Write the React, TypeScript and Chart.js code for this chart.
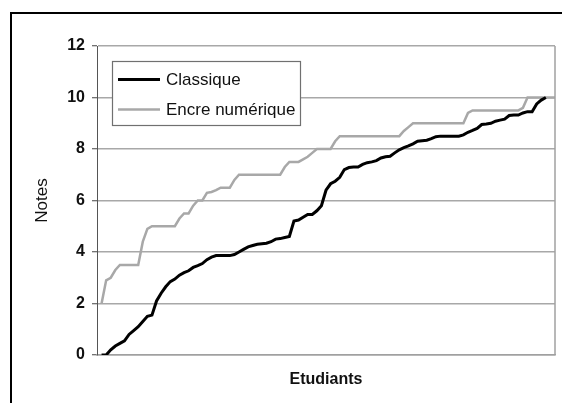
import React, { useEffect, useRef } from "react";
import { Chart, registerables } from "chart.js";

Chart.register(...registerables);

const seriesLabels = ["Classique", "Encre numérique"];
const yTicks = [0, 2, 4, 6, 8, 10, 12];
const students = Array.from({ length: 100 }, (_, i) => i + 1);

const classique = [
  0, 0, 0.2, 0.35, 0.45, 0.55, 0.8, 0.95, 1.1, 1.3,
  1.5, 1.55, 2.1, 2.4, 2.65, 2.85, 2.95, 3.1, 3.2, 3.27,
  3.4, 3.47, 3.55, 3.7, 3.8, 3.86, 3.86, 3.86, 3.86, 3.9,
  4.0, 4.1, 4.2, 4.25, 4.3, 4.32, 4.34, 4.4, 4.5, 4.52,
  4.56, 4.6, 5.2, 5.24, 5.35, 5.46, 5.46, 5.6, 5.8, 6.4,
  6.65, 6.75, 6.9, 7.2, 7.28, 7.3, 7.3, 7.4, 7.47, 7.5,
  7.55, 7.65, 7.7, 7.72, 7.85, 7.97, 8.05, 8.12, 8.2, 8.3,
  8.32, 8.34, 8.4, 8.48, 8.5, 8.5, 8.5, 8.5, 8.5, 8.55,
  8.65, 8.72, 8.8, 8.95, 8.97, 9.0, 9.08, 9.12, 9.16, 9.3,
  9.32, 9.32, 9.4, 9.45, 9.45, 9.75, 9.9, 10,
];

const encre = [
  2, 2.9, 3, 3.3, 3.5, 3.5, 3.5, 3.5, 3.5, 4.4,
  4.9, 5, 5, 5, 5, 5, 5, 5.3, 5.5, 5.5,
  5.8, 6, 6, 6.3, 6.33, 6.4, 6.5, 6.5, 6.5, 6.8,
  7, 7, 7, 7, 7, 7, 7, 7, 7, 7,
  7.3, 7.5, 7.5, 7.5, 7.6, 7.7, 7.85, 8, 8, 8,
  8, 8.3, 8.5, 8.5, 8.5, 8.5, 8.5, 8.5, 8.5, 8.5,
  8.5, 8.5, 8.5, 8.5, 8.5, 8.5, 8.7, 8.85, 9, 9,
  9, 9, 9, 9, 9, 9, 9, 9, 9, 9,
  9.4, 9.5, 9.5, 9.5, 9.5, 9.5, 9.5, 9.5, 9.5, 9.5,
  9.5, 9.5, 9.6, 10, 10, 10, 10, 10, 10, 10,
];

const FONT = "'Liberation Sans', Arial, Helvetica, sans-serif";

const decorPlugin = {
  id: "decor",
  afterDatasetsDraw(chart: any) {
    const { ctx, chartArea } = chart;
    ctx.save();
    // right border of plot
    ctx.strokeStyle = "#a0a0a0";
    ctx.lineWidth = 1.5;
    ctx.beginPath();
    ctx.moveTo(chartArea.right, chartArea.top);
    ctx.lineTo(chartArea.right, chartArea.bottom);
    ctx.stroke();

    // legend box
    const lx = 112.5, ly = 61.5, lw = 188, lh = 64;
    ctx.fillStyle = "#ffffff";
    ctx.fillRect(lx, ly, lw, lh);
    ctx.strokeStyle = "#707070";
    ctx.lineWidth = 1.2;
    ctx.strokeRect(lx, ly, lw, lh);
    const ds = chart.data.datasets;
    const rows = [79.5, 109.5];
    ds.forEach((d: any, i: number) => {
      ctx.strokeStyle = d.borderColor;
      ctx.lineWidth = d.borderWidth;
      ctx.beginPath();
      ctx.moveTo(118, rows[i]);
      ctx.lineTo(160, rows[i]);
      ctx.stroke();
      ctx.fillStyle = "#111";
      ctx.font = `17px ${FONT}`;
      ctx.textBaseline = "middle";
      ctx.textAlign = "left";
      ctx.fillText(d.label, 166, rows[i] + 0.5);
    });

    // outer frame
    ctx.fillStyle = "#000";
    ctx.fillRect(10, 12, 552, 2);
    ctx.fillRect(10, 12, 2, 391);
    ctx.restore();
  },
};

export default function App() {
  const ref = useRef<HTMLCanvasElement | null>(null);

  useEffect(() => {
    if (!ref.current) return;
    const chart = new Chart(ref.current, {
      type: "line",
      data: {
        datasets: [
          {
            label: seriesLabels[0],
            data: classique.map((v, i) => ({ x: students[i], y: v })),
            borderColor: "#000000",
            borderWidth: 3,
            pointRadius: 0,
            tension: 0,
            fill: false,
          },
          {
            label: seriesLabels[1],
            data: encre.map((v, i) => ({ x: students[i], y: v })),
            borderColor: "#a8a8a8",
            borderWidth: 2.5,
            pointRadius: 0,
            tension: 0,
            fill: false,
          },
        ],
      },
      options: {
        animation: false,
        responsive: false,
        devicePixelRatio: 1,
        layout: { padding: { left: 0, top: 46, right: 7, bottom: 0 } },
        plugins: {
          legend: { display: false },
          tooltip: { enabled: false },
          title: { display: false },
        },
        scales: {
          x: {
            type: "linear",
            min: 0,
            max: 100,
            ticks: { display: false },
            grid: { display: false },
            border: { display: true, color: "#a0a0a0", width: 1.5 },
            title: {
              display: true,
              text: "Etudiants",
              color: "#111",
              font: { family: FONT, size: 16, weight: "bold" },
              padding: { top: 0, bottom: 14 },
            },
            afterFit(scale: any) {
              scale.height = 48;
            },
          },
          y: {
            min: 0,
            max: 12,
            afterBuildTicks(scale: any) {
              scale.ticks = yTicks.map((v) => ({ value: v }));
            },
            ticks: {
              color: "#111",
              font: { family: FONT, size: 16, weight: "bold" },
              padding: 7,
            },
            grid: {
              color: "#a8a8a8",
              lineWidth: 1.5,
              tickLength: 5,
              tickColor: "#444",
              tickWidth: 1,
            },
            border: { display: true, color: "#555", width: 1 },
            title: {
              display: true,
              text: "Notes",
              color: "#111",
              font: { family: FONT, size: 17, weight: "normal" },
              padding: { top: 32, bottom: 0 },
            },
            afterFit(scale: any) {
              scale.width = 97;
            },
          },
        },
      },
      plugins: [decorPlugin],
    });
    return () => chart.destroy();
  }, []);

  return (
    <div
      style={{
        position: "absolute",
        left: 0,
        top: 0,
        width: 562,
        height: 403,
        background: "#ffffff",
      }}
    >
      <canvas ref={ref} width={562} height={403} style={{ display: "block" }} />
    </div>
  );
}
